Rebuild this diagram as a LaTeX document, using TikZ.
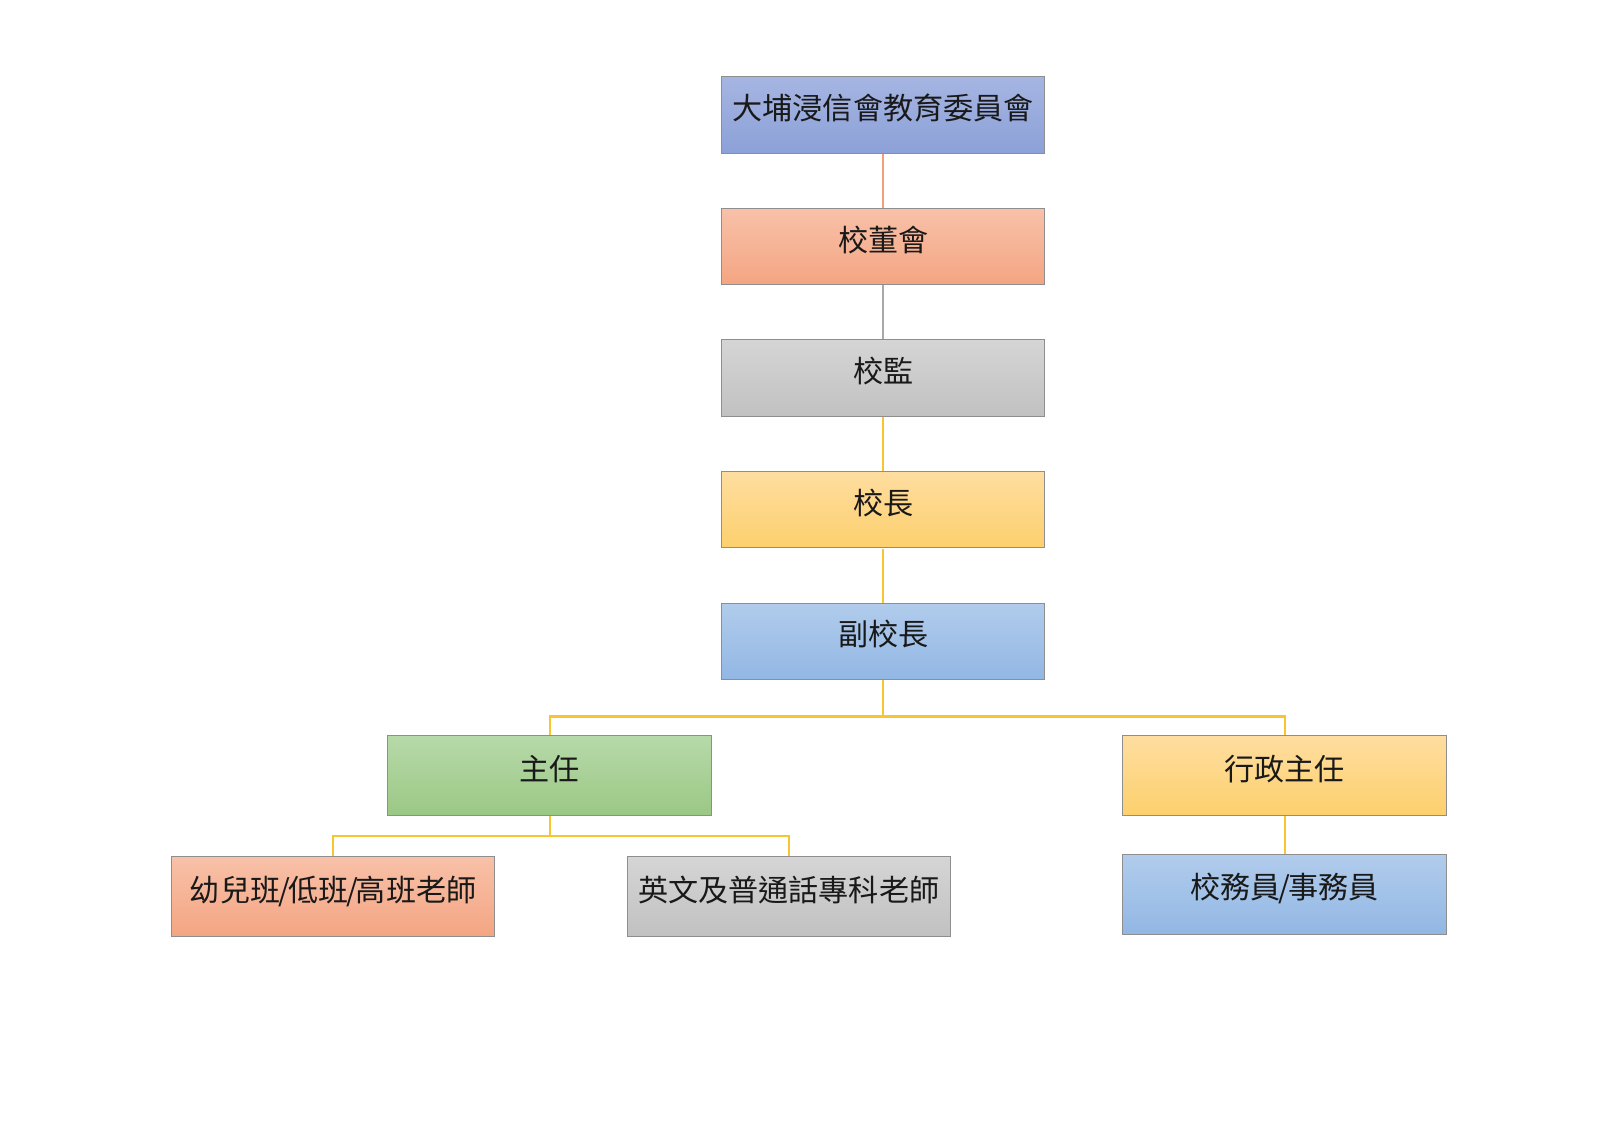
\documentclass[tikz,border=0pt]{standalone}
\usepackage{fontspec}
\setmainfont{Noto Sans CJK TC}
\definecolor{bluT}{HTML}{A6B5E2}\definecolor{bluB}{HTML}{8CA1D8}
\definecolor{orT}{HTML}{F8C1A9}\definecolor{orB}{HTML}{F4A582}
\definecolor{grT}{HTML}{D5D5D5}\definecolor{grB}{HTML}{C1C1C1}
\definecolor{yeT}{HTML}{FEDDA0}\definecolor{yeB}{HTML}{FDD06D}
\definecolor{lbT}{HTML}{B1CCEC}\definecolor{lbB}{HTML}{92B7E4}
\definecolor{gnT}{HTML}{B7D9A9}\definecolor{gnB}{HTML}{9BC885}
\definecolor{lnOr}{HTML}{F2A07C}\definecolor{lnGr}{HTML}{A8A8A8}\definecolor{lnYe}{HTML}{F7C52F}
\definecolor{edge}{HTML}{8E8E8E}
\begin{document}
\begin{tikzpicture}[x=1pt,y=-1pt,scale=1.0204,every node/.append style={transform shape},
  orgbox/.style={rectangle,draw=edge,line width=1pt,minimum width=317pt,minimum height=#1,inner sep=0pt,
    text height=11pt,text depth=2pt,
    font=\fontsize{29.5}{32}\selectfont,text=black!90},
  orgbox/.default=75pt,
  conn/.style={line width=2.2pt}]
\useasboundingbox (0,0) rectangle (1568,1108.4);
\fill[white] (0,0) rectangle (1568,1108.4);
% vertical chain
\node[orgbox,top color=bluT,bottom color=bluB] (edu) at (865.5,112.5) {大埔浸信會教育委員會};
\node[orgbox,top color=orT,bottom color=orB] (board) at (865.5,241.5) {校董會};
\node[orgbox,top color=grT,bottom color=grB] (sup) at (865.5,370.5) {校監};
\node[orgbox,top color=yeT,bottom color=yeB] (prin) at (865.5,499.5) {校長};
\node[orgbox,top color=lbT,bottom color=lbB] (vp) at (865.5,628.5) {副校長};
% second level
\node[orgbox=78pt,top color=gnT,bottom color=gnB] (head) at (538.5,760) {主任};
\node[orgbox=78pt,top color=yeT,bottom color=yeB] (admin) at (1259,760) {行政主任};
% third level
\node[orgbox=79pt,top color=orT,bottom color=orB] (kg) at (326.5,878.5) {幼兒班\kern-2pt/\kern-2pt低班\kern-2pt/\kern-2pt高班老師};
\node[orgbox=79pt,top color=grT,bottom color=grB] (eng) at (773,878.5) {英文及普通話專科老師};
\node[orgbox=79pt,top color=lbT,bottom color=lbB] (staff) at (1259,876.5) {校務員\kern-2pt/\kern-2pt事務員};
% connectors
\coordinate (j1) at (865.5,702);
\coordinate (j2) at (538.5,819);
\draw[conn,lnOr] (edu.south) -- (board.north);
\draw[conn,lnGr] (board.south) -- (sup.north);
\draw[conn,lnYe] (sup.south) -- (prin.north);
\draw[conn,lnYe] (prin.south) -- (vp.north);
\draw[conn,lnYe] (vp.south) -- (j1);
\draw[conn,lnYe] (j1) -| (head.north);
\draw[conn,lnYe] (j1) -| (admin.north);
\draw[conn,lnYe] (head.south) -- (j2);
\draw[conn,lnYe] (j2) -| (kg.north);
\draw[conn,lnYe] (j2) -| (eng.north);
\draw[conn,lnYe] (admin.south) -- (staff.north);
\end{tikzpicture}
\end{document}
